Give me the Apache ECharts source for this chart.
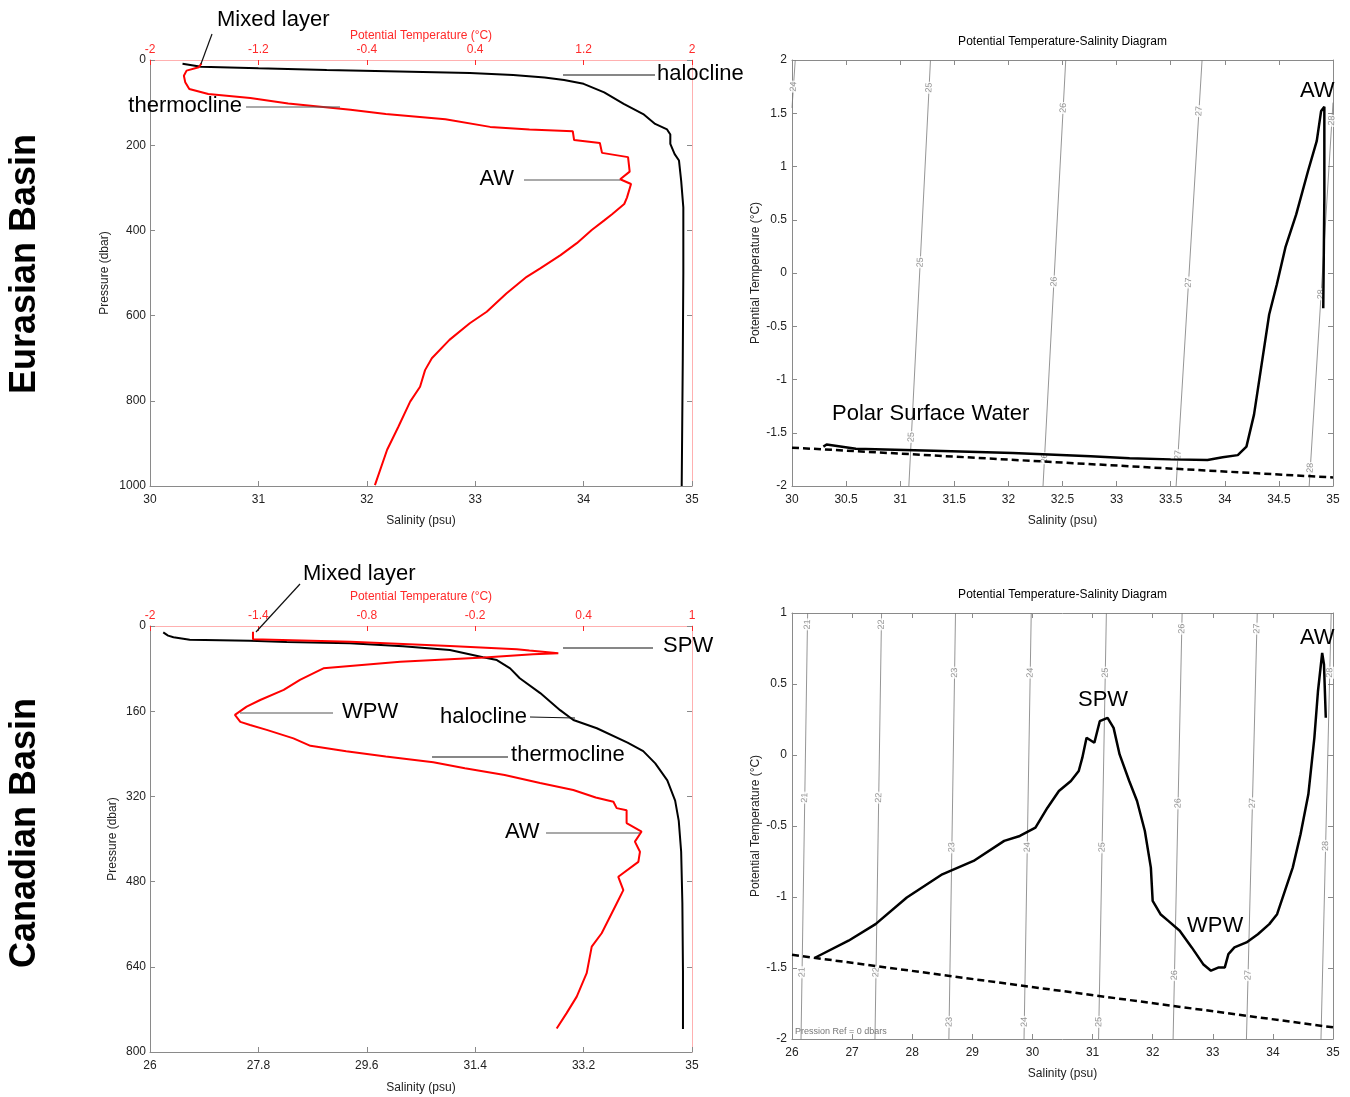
<!DOCTYPE html>
<html><head><meta charset="utf-8">
<script src="https://cdn.jsdelivr.net/npm/echarts@6/dist/echarts.min.js"></script>
<style>html,body{margin:0;padding:0;background:#fff}#c{width:1350px;height:1097px}</style>
</head><body><div id="c"></div><script>
// ---------- DATA ----------
// Eurasian Basin profile: [salinity, pressure]
const eurSalinity = [[30.30,9],[30.40,13],[30.47,16],[31.0,19.5],[31.63,23.5],[32.3,27],[32.95,30.5],[33.35,35],[33.64,41],[33.82,47],[34.0,56],[34.19,76],[34.37,103],[34.55,127],[34.66,150],[34.77,163],[34.80,175],[34.80,197],[34.84,221],[34.88,236],[34.90,283],[34.92,346],[34.92,500],[34.915,700],[34.91,850],[34.905,1000]];
// Eurasian Basin profile: [potential temperature, pressure]
const eurTemperature = [[-1.62,8],[-1.64,17],[-1.73,25],[-1.75,37],[-1.74,52],[-1.71,68],[-1.57,80],[-1.26,89],[-0.98,102],[-0.52,117],[-0.26,127],[0.18,139],[0.51,157],[0.80,163],[1.12,167],[1.13,188],[1.32,195],[1.336,218],[1.528,228],[1.54,262],[1.47,280],[1.55,291],[1.52,323],[1.50,338],[1.41,362],[1.35,377],[1.26,399],[1.15,430],[1.03,458],[0.88,489],[0.78,509],[0.63,548],[0.485,591],[0.36,618],[0.21,657],[0.08,700],[0.03,728],[-0.007,767],[-0.08,802],[-0.167,861],[-0.25,915],[-0.34,998]];
// Canadian Basin profile
const canSalinity = [[26.22,12],[26.30,18],[26.39,21],[26.66,26],[27.66,27.5],[28.27,30],[29.32,32.6],[30.2,38],[30.98,45],[31.53,58.8],[31.76,64],[31.98,79.5],[32.14,98],[32.48,126],[32.81,158],[33.03,176.5],[33.42,192],[33.93,219],[34.19,235],[34.39,258],[34.59,290],[34.72,328],[34.78,366],[34.82,424],[34.84,520],[34.85,648],[34.85,757]];
const canTemperature = [[-1.43,11],[-1.43,25],[-0.89,29.4],[-0.34,37.6],[0.03,43.8],[0.10,46],[0.26,51],[0.12,53],[-0.15,59],[-0.615,67],[-1.04,79.5],[-1.08,86],[-1.17,101],[-1.26,120],[-1.39,139],[-1.465,151.5],[-1.53,167],[-1.50,180],[-1.446,186],[-1.354,195],[-1.206,211],[-1.112,225],[-0.914,235],[-0.695,245],[-0.432,256],[-0.257,267],[-0.037,280],[0.159,295],[0.343,308],[0.467,322],[0.565,330],[0.583,342],[0.638,346],[0.638,370],[0.721,386],[0.684,405],[0.712,424],[0.703,443],[0.592,471],[0.620,496],[0.583,521],[0.537,552],[0.500,577],[0.445,602],[0.417,652],[0.362,696],[0.306,727],[0.251,756]];
// T-S curves: [salinity, potential temperature]
const eurTS = [[30.29,-1.63],[30.32,-1.61],[30.59,-1.65],[31.31,-1.67],[32.04,-1.69],[32.76,-1.72],[33.12,-1.74],[33.5,-1.75],[33.84,-1.755],[33.98,-1.73],[34.12,-1.71],[34.20,-1.63],[34.27,-1.33],[34.34,-0.86],[34.41,-0.39],[34.48,-0.11],[34.56,0.24],[34.66,0.55],[34.77,0.96],[34.85,1.24],[34.89,1.52],[34.92,1.56],[34.92,1.46],[34.92,0.71],[34.91,-0.33]];
const canTS = [[26.39,-1.426],[26.94,-1.308],[27.39,-1.191],[27.91,-1.004],[28.50,-0.840],[29.02,-0.746],[29.53,-0.605],[29.79,-0.570],[30.05,-0.512],[30.25,-0.371],[30.44,-0.254],[30.64,-0.183],[30.77,-0.113],[30.83,-0.019],[30.90,0.121],[31.03,0.086],[31.12,0.238],[31.25,0.262],[31.35,0.191],[31.45,0.004],[31.61,-0.183],[31.74,-0.324],[31.87,-0.535],[31.97,-0.793],[32.00,-1.027],[32.13,-1.121],[32.26,-1.168],[32.45,-1.238],[32.65,-1.355],[32.84,-1.473],[32.97,-1.519],[33.10,-1.496],[33.20,-1.496],[33.26,-1.402],[33.36,-1.355],[33.56,-1.320],[33.75,-1.262],[33.94,-1.191],[34.07,-1.121],[34.20,-0.957],[34.33,-0.793],[34.46,-0.558],[34.59,-0.277],[34.69,0.121],[34.75,0.449],[34.82,0.719],[34.85,0.637],[34.88,0.262]];
// freezing line (dashed)
const eurFreeze = [[30,-1.64],[35,-1.92]];
const canFreeze = [[26,-1.407],[35,-1.918]];
// density contours: sigma, [bottom point],[top point], label temperatures
const eurSigma = [24,25,26,27,28];
const eurSigmaEnds = [[[30.0,1.55],[30.03,2]],[[31.08,-2],[31.28,2]],[[32.32,-2],[32.53,2]],[[33.55,-2],[33.79,2]],[[34.78,-2],[35.0,1.6]]];
const eurSigmaLabelT = [[1.75],[1.74,0.1,-1.54],[1.55,-0.08,-1.74],[1.52,-0.09,-1.71],[1.43,-0.2,-1.83]];
const canSigma = [21,22,23,24,25,26,27,28];
const canSigmaEnds = [[[26.15,-2],[26.26,1]],[[27.38,-2],[27.49,1]],[[28.61,-2],[28.72,1]],[[29.86,-2],[29.98,1]],[[31.10,-2],[31.23,1]],[[32.34,-2],[32.49,1]],[[33.56,-2],[33.74,1]],[[34.80,-2],[34.97,1]]];
const canSigmaLabelT = [[0.92,-0.30,-1.53],[0.92,-0.30,-1.53],[0.58,-0.65,-1.88],[0.58,-0.65,-1.88],[0.58,-0.65,-1.88],[0.89,-0.34,-1.55],[0.89,-0.34,-1.55],[0.58,-0.64]];

// annotations in data coordinates of each panel (bottom x axis, left y axis)
const annotations = [
  {g:0,text:'Mixed layer',at:[30.618,-93.9],align:'left',line:[[30.572,-61.0],[30.470,9.4]],dark:true},
  {g:0,text:'halocline',at:[34.677,32.9],align:'left',line:[[33.810,35.2],[34.659,35.2]],dark:true},
  {g:0,text:'thermocline',at:[30.849,108],align:'right',line:[[30.886,110.3],[31.753,110.3]]},
  {g:0,text:'AW',at:[33.358,279.3],align:'right',line:[[33.450,281.7],[34.336,281.7]]},
  {g:1,text:'Polar Surface Water',at:[30.370,-1.324],align:'left'},
  {g:1,text:'AW',at:[34.695,1.709],align:'left'},
  {g:2,text:'Mixed layer',at:[28.541,-97.7],align:'left',line:[[28.491,-78.9],[27.760,11.3]],dark:true},
  {g:2,text:'SPW',at:[34.519,37.6],align:'left',line:[[32.858,41.3],[34.353,41.3]],dark:true},
  {g:2,text:'WPW',at:[29.188,161.5],align:'left',line:[[27.494,163.4],[29.039,163.4]]},
  {g:2,text:'halocline',at:[30.816,170.9],align:'left',line:[[32.310,170.9],[33.057,172.8]],dark:true},
  {g:2,text:'thermocline',at:[31.995,242.3],align:'left',line:[[30.683,246],[31.945,246]],dark:true},
  {g:2,text:'AW',at:[31.895,386.9],align:'left',line:[[32.576,388.7],[34.137,388.7]]},
  {g:3,text:'SPW',at:[30.758,0.387],align:'left'},
  {g:3,text:'WPW',at:[32.571,-1.204],align:'left'},
  {g:3,text:'AW',at:[34.451,0.824],align:'left'}
];

// ---------- STYLE ----------
const FONT = '"Liberation Sans", Arial, Helvetica, sans-serif';
const GRAY = '#8a8a8a', PINK = '#ffb0b0', RED = '#ff2a2a', TXT = '#222';
const fmt = v => String(+(+v).toFixed(2));

function axis(o) {
  const lineColor = o.lineColor || GRAY;
  return {
    type: 'value', gridIndex: o.g, position: o.pos, min: o.min, max: o.max, interval: o.interval,
    inverse: !!o.inverse,
    axisLine: {show: true, onZero: false, lineStyle: {color: lineColor, width: 1}},
    axisTick: {show: true, inside: true, length: 5, lineStyle: {color: o.tickColor || GRAY}},
    axisLabel: {show: !o.noLabel, margin: o.margin == null ? 6 : o.margin, fontSize: 12, fontFamily: FONT,
      color: o.labelColor || TXT, formatter: fmt, showMinLabel: true, showMaxLabel: true, hideOverlap: false},
    splitLine: {show: false},
    name: o.name || '', nameLocation: 'middle', nameGap: o.nameGap || 20,
    nameTextStyle: {fontSize: 12, fontFamily: FONT, color: o.nameColor || TXT}
  };
}

const grids = [
  {left: 150, top: 60, width: 542, height: 426},
  {left: 792, top: 60, width: 541, height: 426},
  {left: 150, top: 626, width: 542, height: 426},
  {left: 792, top: 613, width: 541, height: 426}
];

const xAxes = [
  axis({g:0,pos:'bottom',min:30,max:35,interval:1,margin:8,name:'Salinity (psu)',nameGap:29}),
  axis({g:0,pos:'top',min:-2,max:2,interval:0.8,margin:4,lineColor:PINK,tickColor:RED,labelColor:RED,name:'Potential Temperature (°C)',nameGap:18,nameColor:RED}),
  axis({g:1,pos:'bottom',min:30,max:35,interval:0.5,margin:8,name:'Salinity (psu)',nameGap:29}),
  axis({g:1,pos:'top',min:30,max:35,interval:0.5,noLabel:true}),
  axis({g:2,pos:'bottom',min:26,max:35,interval:1.8,margin:8,name:'Salinity (psu)',nameGap:30}),
  axis({g:2,pos:'top',min:-2,max:1,interval:0.6,margin:4,lineColor:PINK,tickColor:RED,labelColor:RED,name:'Potential Temperature (°C)',nameGap:23,nameColor:RED}),
  axis({g:3,pos:'bottom',min:26,max:35,interval:1,margin:8,name:'Salinity (psu)',nameGap:29}),
  axis({g:3,pos:'top',min:26,max:35,interval:1,noLabel:true})
];
const yAxes = [
  axis({g:0,pos:'left',min:0,max:1000,interval:200,inverse:true,margin:4,name:'Pressure (dbar)',nameGap:39}),
  axis({g:0,pos:'right',min:0,max:1000,interval:200,inverse:true,noLabel:true,lineColor:PINK}),
  axis({g:1,pos:'left',min:-2,max:2,interval:0.5,margin:5,name:'Potential Temperature (°C)',nameGap:30}),
  axis({g:1,pos:'right',min:-2,max:2,interval:0.5,noLabel:true}),
  axis({g:2,pos:'left',min:0,max:800,interval:160,inverse:true,margin:4,name:'Pressure (dbar)',nameGap:31}),
  axis({g:2,pos:'right',min:0,max:800,interval:160,inverse:true,noLabel:true,lineColor:PINK}),
  axis({g:3,pos:'left',min:-2,max:1,interval:0.5,margin:5,name:'Potential Temperature (°C)',nameGap:30}),
  axis({g:3,pos:'right',min:-2,max:1,interval:0.5,noLabel:true})
];

function lineSeries(data, xi, yi, color, width, extra) {
  return Object.assign({
    type: 'line', data: data, xAxisIndex: xi, yAxisIndex: yi, showSymbol: false, symbol: 'none',
    lineStyle: {color: color, width: width}, itemStyle: {color: color}, animation: false, silent: true, z: 3
  }, extra || {});
}

const series = [];
// contours
function addContours(sig, ends, labT, xi, yi, rot) {
  sig.forEach((s, i) => {
    const e = ends[i];
    series.push(lineSeries(e, xi, yi, '#7a7a7a', 0.8, {z: 1}));
    const lab = labT[i].map(t => {
      const f = (t - e[0][1]) / (e[1][1] - e[0][1]);
      return [e[0][0] + f * (e[1][0] - e[0][0]), t, s];
    });
    series.push({
      type: 'scatter', xAxisIndex: xi, yAxisIndex: yi, data: lab, symbolSize: 1, silent: true, animation: false, z: 2,
      itemStyle: {color: 'rgba(0,0,0,0)'},
      label: {show: true, position: 'inside', rotate: rot, formatter: p => String(p.value[2]), fontSize: 9,
        fontFamily: FONT, color: '#777', backgroundColor: '#fff', padding: [0, 1]}
    });
  });
}
addContours(eurSigma, eurSigmaEnds, eurSigmaLabelT, 2, 2, 87);
addContours(canSigma, canSigmaEnds, canSigmaLabelT, 6, 6, 88.5);

series.push(lineSeries(eurSalinity, 0, 0, '#000', 2));
series.push(lineSeries(eurTemperature, 1, 0, '#ff0000', 2, {z: 4}));
series.push(lineSeries(eurFreeze, 2, 2, '#000', 2.5, {lineStyle: {color: '#000', width: 2.5, type: [7, 4]}}));
series.push(lineSeries(eurTS, 2, 2, '#000', 2.5, {z: 4}));
series.push(lineSeries(canSalinity, 4, 4, '#000', 2));
series.push(lineSeries(canTemperature, 5, 4, '#ff0000', 2, {z: 4}));
series.push(lineSeries(canFreeze, 6, 6, '#000', 2.5, {lineStyle: {color: '#000', width: 2.5, type: [7, 4]}}));
series.push(lineSeries(canTS, 6, 6, '#000', 2.5, {z: 4}));

const chart = echarts.init(document.getElementById('c'), null, {renderer: 'canvas'});
chart.setOption({
  animation: false,
  backgroundColor: '#fff',
  textStyle: {fontFamily: FONT},
  grid: grids,
  xAxis: xAxes,
  yAxis: yAxes,
  series: series
});

// ---------- annotations placed through the axes ----------
const gfx = [];
function toPx(g, pt) {
  const idx = [0, 2, 4, 6][g];
  return chart.convertToPixel({xAxisIndex: idx, yAxisIndex: idx}, pt);
}
function txt(x, y, text, size, align, extra) {
  return Object.assign({type: 'text', x: x, y: y, silent: true, z: 100,
    style: Object.assign({text: text, fill: '#000', font: size + 'px ' + FONT, align: align, verticalAlign: 'middle',
      textAlign: align, textVerticalAlign: 'middle'}, (extra && extra.style) || {})}, extra && extra.rotation ? {rotation: extra.rotation} : {});
}
annotations.forEach(a => {
  const p = toPx(a.g, a.at);
  gfx.push(txt(p[0], p[1], a.text, 22, a.align));
  if (a.line) {
    const p1 = toPx(a.g, a.line[0]), p2 = toPx(a.g, a.line[1]);
    gfx.push({type: 'line', silent: true, z: 100, shape: {x1: p1[0], y1: p1[1], x2: p2[0], y2: p2[1]},
      style: {stroke: a.dark ? '#111' : '#555', lineWidth: 1.2}});
  }
});
// pressure reference note (data coords in panel 4)
const pr = toPx(3, [26.05, -1.944]);
gfx.push(txt(pr[0], pr[1], 'Pression Ref = 0 dbars', 9, 'left', {style: {fill: '#777'}}));
// panel titles
[1, 3].forEach(g => {
  const r = grids[g];
  gfx.push(txt(r.left + r.width / 2, r.top - 18, 'Potential Temperature-Salinity Diagram', 12, 'center'));
});
// row labels
gfx.push(txt(25, 264, 'Eurasian Basin', 36, 'center', {rotation: Math.PI / 2, style: {font: 'bold 36px ' + FONT}}));
gfx.push(txt(25, 833, 'Canadian Basin', 36, 'center', {rotation: Math.PI / 2, style: {font: 'bold 36px ' + FONT}}));
chart.setOption({graphic: gfx});
</script></body></html>
